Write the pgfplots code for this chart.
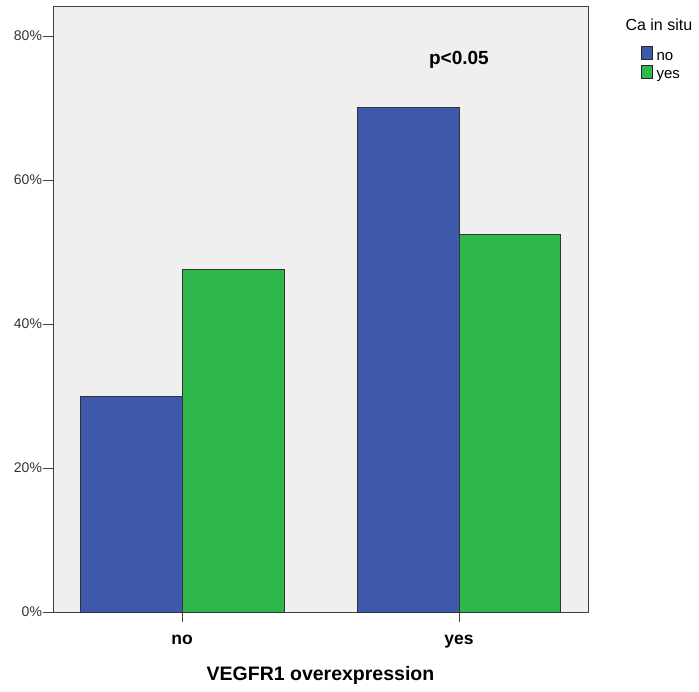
\documentclass[border=0pt]{standalone}
\usepackage{pgfplots}
\pgfplotsset{compat=1.18}
\usepackage{fontspec}
\setmainfont{Liberation Sans}
\definecolor{barblue}{HTML}{3E58AC}
\definecolor{bargreen}{HTML}{2EB84B}
\definecolor{bgcol}{HTML}{EFEFEF}
\begin{document}
\begin{tikzpicture}
\begin{axis}[
  name=ax,
  width=535pt, height=606pt, scale only axis,
  axis background/.style={fill=bgcol},
  axis line style={draw=black!75, line width=0.8pt},
  ybar=0pt, bar width=0.368,
  xmin=-0.466, xmax=1.466,
  ymin=0, ymax=84.17,
  xtick={0,1}, xticklabels={no,yes},
  ytick={0,20,40,60,80},
  yticklabel={\pgfmathprintnumber{\tick}\%},
  /pgf/number format/assume math mode=true,
  tick align=outside, tick pos=left,
  major tick length=10pt,
  tick style={black!75, line width=0.8pt},
  xticklabel style={font=\fontsize{17.5}{20}\selectfont\bfseries, yshift=-10pt},
  yticklabel style={font=\fontsize{14}{16}\selectfont, text=black!80, xshift=2.5pt},
  xlabel={VEGFR1 overexpression},
  xlabel style={font=\fontsize{19.5}{22}\selectfont\bfseries, yshift=-11pt},
  clip=false,
  legend style={draw=none, fill=none, at={(rel axis cs:1.099,0.934)}, anchor=north west,
    font=\fontsize{15}{16}\selectfont, row sep=0pt, inner sep=0pt,
    nodes={inner sep=1pt, text height=11pt, text depth=3pt}},
  legend cell align=left,
  legend image code/.code={\path[draw=none, fill=none] (0pt,0pt) -- (14pt,0pt);
    \draw[#1, draw=black!85, line width=0.8pt] (0pt,-3pt) rectangle (11pt,10pt);},
]
\addplot[fill=barblue, draw=black!80, line width=0.8pt] coordinates {(0,30.0) (1,70.1)};
\addplot[fill=bargreen, draw=black!80, line width=0.8pt] coordinates {(0,47.6) (1,52.4)};
\legend{no,yes}
\node[font=\fontsize{19}{22}\selectfont\bfseries, anchor=base] at (axis cs:1,76.1) {p<0.05};
\end{axis}
\node[font=\fontsize{16}{18}\selectfont, anchor=base west] at ([shift={(569pt,581pt)}]ax.south west) {Ca in situ};
\pgfresetboundingbox
\path[use as bounding box] ([shift={(-53pt,-79pt)}]ax.south west) rectangle ([shift={(646pt,612pt)}]ax.south west);
\end{tikzpicture}
\end{document}
